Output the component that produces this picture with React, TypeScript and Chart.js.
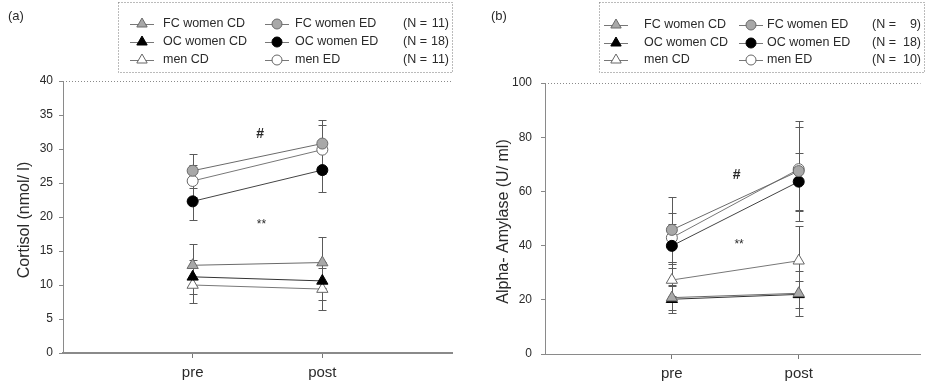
import React, { useEffect, useRef } from 'react';
import { Chart, registerables } from 'chart.js';

Chart.register(...registerables);

// ---------- data ----------
const timepoints = ['pre', 'post'];
const seriesNames = ['FC women CD', 'OC women CD', 'men CD', 'FC women ED', 'OC women ED', 'men ED'];

// Panel (a): Cortisol (nmol/ l)
const cortFCwomenCD = [12.9, 13.3];
const cortOCwomenCD = [11.2, 10.6];
const cortMenCD = [10.0, 9.4];
const cortFCwomenED = [26.8, 30.8];
const cortOCwomenED = [22.3, 26.9];
const cortMenED = [25.3, 29.9];
const cortErrFCwomenCD = [3.1, 3.8];
const cortErrOCwomenCD = [2.5, 2.8];
const cortErrMenCD = [2.7, 3.1];
const cortErrFCwomenED = [2.5, 3.5];
const cortErrOCwomenED = [2.8, 3.2];
const cortErrMenED = [2.3, 3.6];
const cortN = ['11', '18', '11'];
const cortTicks = [0, 5, 10, 15, 20, 25, 30, 35, 40];

// Panel (b): Alpha- Amylase (U/ ml)
const amyFCwomenCD = [20.8, 22.4];
const amyOCwomenCD = [20.2, 22.0];
const amyMenCD = [27.3, 34.4];
const amyFCwomenED = [45.8, 67.5];
const amyOCwomenED = [39.9, 63.6];
const amyMenED = [42.9, 68.2];
const amyErrFCwomenCD = [4.5, 8.3];
const amyErrOCwomenCD = [5.0, 5.0];
const amyErrMenCD = [6.0, 13.0];
const amyErrFCwomenED = [12.0, 18.4];
const amyErrOCwomenED = [8.0, 10.4];
const amyErrMenED = [9.0, 15.4];
const amyN = ['9', '18', '10'];
const amyTicks = [0, 20, 40, 60, 80, 100];

// significance marks [text, x (timepoint position), y value]
const cortMarks: [string, number, number][] = [['#', 1.52, 32.2], ['**', 1.53, 18.8]];
const amyMarks: [string, number, number][] = [['#', 1.51, 66], ['**', 1.53, 40.2]];

// ---------- styles ----------
const FONT = "'Liberation Sans', Arial, sans-serif";
const TEXT = '#2a2a2a';
const styles = [
  { bg: '#a8a8a8', border: '#6a6a6a', line: '#6a6a6a', shape: 'triangle', r: 6.5 },
  { bg: '#000000', border: '#000000', line: '#333333', shape: 'triangle', r: 6.5 },
  { bg: '#ffffff', border: '#666666', line: '#777777', shape: 'triangle', r: 6.5 },
  { bg: '#a8a8a8', border: '#6a6a6a', line: '#6a6a6a', shape: 'circle', r: 5.5 },
  { bg: '#000000', border: '#000000', line: '#444444', shape: 'circle', r: 5.5 },
  { bg: '#ffffff', border: '#666666', line: '#777777', shape: 'circle', r: 5.5 },
];

function drawMarker(ctx: CanvasRenderingContext2D, shape: string, x: number, y: number, r: number, bg: string, border: string) {
  ctx.save();
  ctx.fillStyle = bg;
  ctx.strokeStyle = border;
  ctx.lineWidth = 1;
  ctx.beginPath();
  if (shape === 'circle') {
    ctx.arc(x, y, r, 0, Math.PI * 2);
  } else {
    for (let k = 0; k < 3; k++) {
      const a = -Math.PI / 2 + (k * 2 * Math.PI) / 3;
      const px = x + Math.cos(a) * r;
      const py = y + Math.sin(a) * r;
      if (k === 0) ctx.moveTo(px, py); else ctx.lineTo(px, py);
    }
    ctx.closePath();
  }
  ctx.fill();
  ctx.stroke();
  ctx.restore();
}

const errorBarPlugin = {
  id: 'errBars',
  beforeDatasetsDraw(chart: any) {
    const { ctx } = chart;
    const xs = chart.scales.x;
    const ys = chart.scales.y;
    chart.data.datasets.forEach((ds: any) => {
      ds.data.forEach((p: any, i: number) => {
        const e = ds.errors[i];
        const x = Math.round(xs.getPixelForValue(p.x)) + 0.5;
        const yt = Math.round(ys.getPixelForValue(p.y + e)) + 0.5;
        const yb = Math.round(ys.getPixelForValue(p.y - e)) + 0.5;
        ctx.save();
        ctx.strokeStyle = '#5a5a5a';
        ctx.lineWidth = 1;
        ctx.beginPath();
        ctx.moveTo(x, yt);
        ctx.lineTo(x, yb);
        ctx.moveTo(x - 4, yt);
        ctx.lineTo(x + 4, yt);
        ctx.moveTo(x - 4, yb);
        ctx.lineTo(x + 4, yb);
        ctx.stroke();
        ctx.restore();
      });
    });
  },
};

const decorPlugin = {
  id: 'decor',
  afterDraw(chart: any, _args: any, opts: any) {
    const { ctx, chartArea } = chart;
    const ys = chart.scales.y;
    const xs = chart.scales.x;
    ctx.save();
    // panel label
    ctx.fillStyle = TEXT;
    ctx.font = `13px ${FONT}`;
    ctx.textAlign = 'left';
    ctx.textBaseline = 'middle';
    ctx.fillText(opts.panel, opts.panelX, 16);

    // y title
    ctx.save();
    ctx.translate(opts.titleX, (chartArea.top + chartArea.bottom) / 2 + 3);
    ctx.rotate(-Math.PI / 2);
    ctx.font = `16px ${FONT}`;
    ctx.textAlign = 'center';
    ctx.textBaseline = 'middle';
    ctx.fillText(opts.yTitle, 0, 0);
    ctx.restore();

    // top frame (dotted)
    ctx.strokeStyle = '#8a8a8a';
    ctx.lineWidth = 1;
    ctx.setLineDash([1, 2]);
    ctx.beginPath();
    ctx.moveTo(chartArea.left, Math.round(chartArea.top) + 0.5);
    ctx.lineTo(chartArea.right, Math.round(chartArea.top) + 0.5);
    ctx.stroke();

    // legend box
    const L = opts.legend;
    ctx.strokeStyle = '#777777';
    ctx.beginPath();
    ctx.rect(L.x0 + 0.5, L.y0 + 0.5, L.x1 - L.x0, L.y1 - L.y0);
    ctx.stroke();
    ctx.setLineDash([]);

    ctx.font = `12.5px ${FONT}`;
    ctx.textBaseline = 'middle';
    chart.data.datasets.forEach((ds: any, i: number) => {
      const col = i < 3 ? 0 : 1;
      const row = i % 3;
      const y = L.rows[row];
      const mx = L.markerX[col];
      const st = ds.styleRef;
      ctx.strokeStyle = '#777777';
      ctx.lineWidth = 1;
      ctx.beginPath();
      ctx.moveTo(mx - 12, y + 0.5);
      ctx.lineTo(mx + 12, y + 0.5);
      ctx.stroke();
      drawMarker(ctx, st.shape, mx, y, st.r - 0.5, st.bg, st.border);
      ctx.fillStyle = TEXT;
      ctx.textAlign = 'left';
      ctx.fillText(ds.label, L.textX[col], y);
    });
    opts.nValues.forEach((n: string, row: number) => {
      const y = L.rows[row];
      ctx.fillStyle = TEXT;
      ctx.textAlign = 'left';
      ctx.fillText('(N =', L.nX, y);
      ctx.textAlign = 'right';
      ctx.fillText(n + ')', L.x1 - 3, y);
    });

    // significance marks
    ctx.textAlign = 'center';
    ctx.fillStyle = TEXT;
    opts.marks.forEach((m: [string, number, number]) => {
      ctx.font = m[0] === '#' ? `bold 14px ${FONT}` : `12px ${FONT}`;
      ctx.fillText(m[0], xs.getPixelForValue(m[1]), ys.getPixelForValue(m[2]));
    });
    ctx.restore();
  },
};

function buildDatasets(values: number[][], errors: number[][]) {
  return values.map((vals, i) => {
    const st = styles[i];
    return {
      label: seriesNames[i],
      data: vals.map((v, j) => ({ x: j + 1, y: v })),
      errors: errors[i],
      styleRef: st,
      showLine: true,
      borderColor: st.line,
      borderWidth: 1,
      pointStyle: st.shape,
      pointRadius: st.r,
      pointBackgroundColor: st.bg,
      pointBorderColor: st.border,
      pointBorderWidth: 1,
      fill: false,
    };
  });
}

function makeConfig(p: any) {
  return {
    type: 'scatter',
    data: { datasets: buildDatasets(p.values, p.errors) },
    options: {
      responsive: false,
      animation: false,
      events: [],
      layout: { padding: { top: p.top, right: p.right, left: 0, bottom: 0 } },
      plugins: {
        legend: { display: false },
        tooltip: { enabled: false },
        decor: p.decor,
      },
      scales: {
        x: {
          type: 'linear',
          min: 0,
          max: p.xMax,
          afterFit: (s: any) => { s.height = p.xHeight; },
          afterBuildTicks: (s: any) => { s.ticks = timepoints.map((_, i) => ({ value: i + 1 })); },
          ticks: {
            callback: (v: any) => timepoints[Number(v) - 1] ?? '',
            font: { family: FONT, size: 15 },
            color: TEXT,
            padding: 6,
            maxRotation: 0,
            autoSkip: false,
          },
          grid: { drawOnChartArea: false, drawTicks: true, tickLength: 5, color: '#777777' },
          border: { display: true, color: p.xBorderColor, width: p.xBorderWidth, dash: p.xDash },
        },
        y: {
          type: 'linear',
          min: p.yTicks[0],
          max: p.yTicks[p.yTicks.length - 1],
          afterFit: (s: any) => { s.width = p.yWidth; },
          afterBuildTicks: (s: any) => { s.ticks = p.yTicks.map((v: number) => ({ value: v })); },
          ticks: {
            font: { family: FONT, size: 12 },
            color: TEXT,
            padding: p.yPad,
          },
          grid: { drawOnChartArea: false, drawTicks: true, tickLength: 4, color: '#888888' },
          border: { display: true, color: '#8a8a8a', width: 1, dash: p.yDash },
        },
      },
    },
    plugins: [errorBarPlugin, decorPlugin],
  };
}

const panelA = {
  values: [cortFCwomenCD, cortOCwomenCD, cortMenCD, cortFCwomenED, cortOCwomenED, cortMenED],
  errors: [cortErrFCwomenCD, cortErrOCwomenCD, cortErrMenCD, cortErrFCwomenED, cortErrOCwomenED, cortErrMenED],
  yTicks: cortTicks,
  top: 81,
  right: 12,
  xMax: 3,
  xHeight: 33,
  yWidth: 63,
  yPad: 6,
  xBorderColor: '#8a8a8a',
  xBorderWidth: 2,
  xDash: [],
  yDash: [1, 2],
  decor: {
    panel: '(a)',
    panelX: 8,
    titleX: 25,
    yTitle: 'Cortisol (nmol/ l)',
    nValues: cortN,
    marks: cortMarks,
    legend: { x0: 118, y0: 2, x1: 452, y1: 72, rows: [24, 42, 60], markerX: [142, 277], textX: [163, 295], nX: 403 },
  },
};

const panelB = {
  values: [amyFCwomenCD, amyOCwomenCD, amyMenCD, amyFCwomenED, amyOCwomenED, amyMenED],
  errors: [amyErrFCwomenCD, amyErrOCwomenCD, amyErrMenCD, amyErrFCwomenED, amyErrOCwomenED, amyErrMenED],
  yTicks: amyTicks,
  top: 83,
  right: 1,
  xMax: 2.96,
  xHeight: 32,
  yWidth: 81,
  yPad: 9,
  xBorderColor: '#8a8a8a',
  xBorderWidth: 1,
  xDash: [1, 2],
  yDash: [],
  decor: {
    panel: '(b)',
    panelX: 27,
    titleX: 40,
    yTitle: 'Alpha- Amylase (U/ ml)',
    nValues: amyN,
    marks: amyMarks,
    legend: { x0: 135, y0: 2, x1: 460, y1: 72, rows: [25, 43, 60], markerX: [152, 287], textX: [180, 303], nX: 408 },
  },
};

function Panel({ cfg, left }: { cfg: any; left: number }) {
  const ref = useRef<HTMLCanvasElement>(null);
  useEffect(() => {
    if (!ref.current) return;
    const chart = new Chart(ref.current, makeConfig(cfg) as any);
    return () => chart.destroy();
  }, [cfg]);
  return (
    <canvas
      ref={ref}
      width={464}
      height={386}
      style={{ position: 'absolute', left, top: 0, width: 464, height: 386 }}
    />
  );
}

export default function App() {
  return (
    <div style={{ position: 'absolute', left: 0, top: 0, width: 928, height: 386, background: '#ffffff', overflow: 'hidden' }}>
      <Panel cfg={panelA} left={0} />
      <Panel cfg={panelB} left={464} />
    </div>
  );
}
